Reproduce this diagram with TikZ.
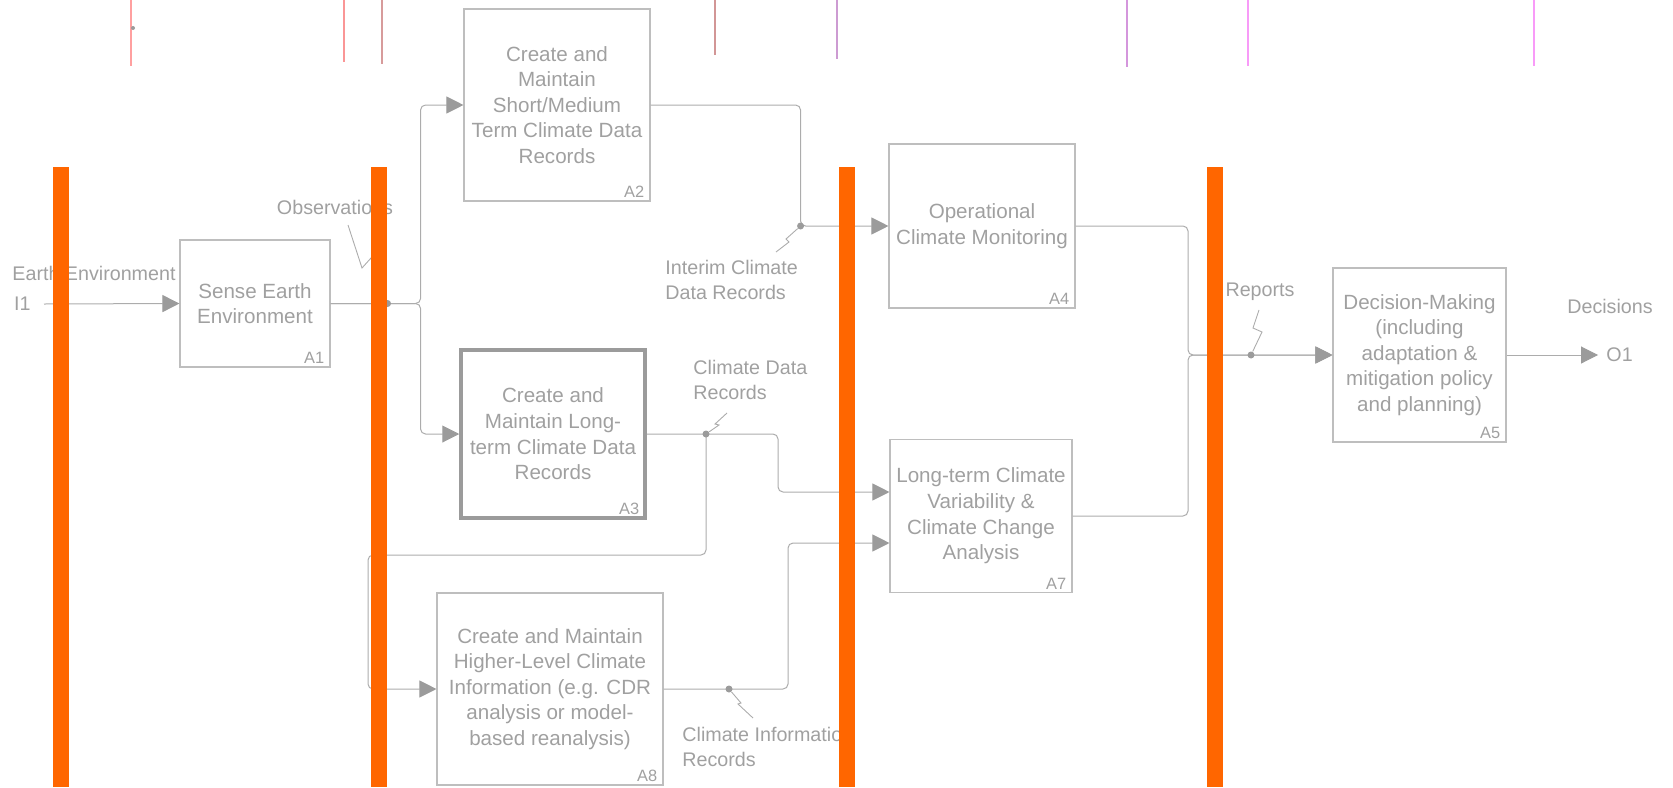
\documentclass[tikz,border=0pt]{standalone}
\usepackage{fontspec}
\setmainfont{Liberation Sans}
\usepackage{tikz}
\usetikzlibrary{calc}
\usetikzlibrary{shapes,arrows.meta}

\definecolor{boxgray}{RGB}{190,190,190}
\definecolor{txtgray}{RGB}{160,160,160}
\definecolor{linegray}{RGB}{172,172,172}
\definecolor{tipgray}{RGB}{155,155,155}
\definecolor{barorange}{RGB}{255,102,0}
\definecolor{tagA}{RGB}{255,160,160}
\definecolor{tagB}{RGB}{250,150,150}
\definecolor{tagC}{RGB}{215,155,155}
\definecolor{tagD}{RGB}{210,150,150}
\definecolor{tagE}{RGB}{205,155,210}
\definecolor{tagF}{RGB}{212,150,220}
\definecolor{tagG}{RGB}{248,155,248}

\newcommand{\boxfont}{\fontsize{10.3}{12.8}\selectfont}
\newcommand{\lblfont}{\fontsize{9.85}{12.2}\selectfont}
\newcommand{\idfont}{\fontsize{8.2}{9}\selectfont}

\tikzset{
  func/.style={draw=boxgray,line width=0.55pt,text=txtgray,align=center,inner sep=1pt,font=\boxfont},
  funcid/.style={text=txtgray,font=\idfont,anchor=south east,inner xsep=3pt,inner ysep=1.8pt},
  lbl/.style={text=txtgray,font=\lblfont,inner sep=0pt},
  flow/.style={draw=linegray,line width=0.5pt,rounded corners=2.5pt},
  arr/.style={flow,-{Triangle[length=8.5pt,width=8.5pt,color=tipgray]}},
  squig/.style={draw=linegray,line width=0.45pt},
  dot/.style={circle,fill=tipgray,inner sep=0pt,minimum size=3.5pt},
}

\begin{document}
\begin{tikzpicture}[x=0.5pt,y=-0.5pt]
    \useasboundingbox (0,0) rectangle (1673,787);

    % tags along the top edge
    \foreach \x/\y/\c in {131/66/tagA,344/62/tagB,382/64/tagC,715/55/tagD,837/59/tagE,1127/67/tagF,1248/66/tagG,1534/66/tagG}
      \draw[\c,line width=1pt] (\x,0) -- (\x,\y);
    \fill[tipgray] (133,28) circle[radius=1pt];

    % functions
    \node[func,minimum width=75pt,minimum height=63.5pt] (A1) at (255,303.5) {Sense Earth\\Environment};
    \node[func,minimum width=93pt,minimum height=96pt] (A2) at (557,105) {Create and\\Maintain\\Short/Medium\\Term Climate Data\\Records};
    \node[func,line width=1.75pt,draw=tipgray,minimum width=92pt,minimum height=84pt] (A3) at (553,434) {Create and\\Maintain Long-\\term Climate Data\\Records};
    \node[func,minimum width=93pt,minimum height=82pt] (A4) at (982,226) {Operational\\Climate Monitoring};
    \node[func,minimum width=91pt,minimum height=76.5pt] (A7) at (981,516) {Long-term Climate\\Variability \&\\Climate Change\\Analysis};
    \node[func,minimum width=113pt,minimum height=96pt] (A8) at (550,689) {Create and Maintain\\Higher-Level Climate\\Information (e.g. CDR\\analysis or model-\\based reanalysis)};
    \node[func,minimum width=86.5pt,minimum height=87pt] (A5) at (1419.5,355) {Decision-Making\\(including\\adaptation \&\\mitigation policy\\and planning)};

    \node[funcid] (A1id) at (A1.south east) {A1};
    \node[funcid] (A2id) at (A2.south east) {A2};
    \node[funcid] (A3id) at ([xshift=-0.6pt,yshift=0.6pt]A3.south east) {A3};
    \node[funcid] (A4id) at (A4.south east) {A4};
    \node[funcid] (A7id) at (A7.south east) {A7};
    \node[funcid] (A8id) at (A8.south east) {A8};
    \node[funcid] (A5id) at (A5.south east) {A5};

    % boundary and arrow labels
    \node[lbl,anchor=east] (I1) at (31,304) {I1};
    \node[lbl] (earth) at (94,273) {Earth Environment};
    \node[lbl] (obs) at (335,207) {Observations};
    \node[lbl,anchor=west,align=left] (interim) at (665,280) {Interim Climate\\Data Records};
    \node[lbl,anchor=west,align=left] (cdr) at (693,380) {Climate Data\\Records};
    \node[lbl,anchor=west,align=left] (cinfo) at (682,747) {Climate Information\\Records};
    \node[lbl] (reports) at (1260,292) {Reports};
    \node[lbl] (decisions) at (1610,306) {Decisions};
    \node[lbl,anchor=west] (O1) at (1606,355) {O1};

    \coordinate (fork1) at ($(A1.east)+(90,0)$);
    \coordinate (m1) at ($(A2.east)+(150,0)$);
    \coordinate (m2) at (778,434);
    \coordinate (a7in1) at (778,492);
    \coordinate (m3) at (706,555);
    \coordinate (m4) at (368,555);
    \coordinate (m5) at (788,689);
    \coordinate (a7in2) at (788,543);
    \coordinate (m6) at (1188,355);

    % arrows
    \draw[arr] ([xshift=6.5pt]I1.east) -- (A1.west);
    \draw[arr] (A1.east) -- (fork1) -- (fork1 |- A2.west) -- (A2.west);
    \draw[arr] (A1.east) -- (fork1) -- (fork1 |- A3.west) -- (A3.west);
    \draw[arr] (A2.east) -- (m1) -- (m1 |- A4.west) -- (A4.west);
    \draw[arr] (A3.east) -- (m2) -- (a7in1) -- (a7in1 -| A7.west);
    \draw[arr] (A3.east -| m3) -- (m3) -- (m4) -- (m4 |- A8.west) -- (A8.west);
    \draw[arr] (A8.east) -- (m5) -- (a7in2) -- (a7in2 -| A7.west);
    \draw[arr] (A4.east) -- (A4.east -| m6) -- (m6) -- (A5.west);
    \draw[arr] (A7.east) -- (A7.east -| m6) -- (m6) -- (A5.west);
    \draw[arr] (A5.east) -- ([xshift=-4pt]O1.west);

    % dots and squiggles
    \node[dot] (obsdot) at ($(A1.east)+(57,0)$) {};
    \node[dot] (interimdot) at (m1 |- A4.west) {};
    \node[dot] (cdrdot) at (A3.east -| m3) {};
    \node[dot] (cinfodot) at (729,689) {};
    \node[dot] (reportsdot) at (1251,355) {};
    \draw[squig] (348,225) -- (362,268) -- (371,258) -- (obsdot);
    \draw[squig] (interimdot) -- (786,239) -- (789,242) -- (776,252);
    \draw[squig] (cdrdot) -- (719,425) -- (715,424) -- (727,413);
    \draw[squig] (cinfodot) -- (741,703) -- (738,704) -- (753,718);
    \draw[squig] (reportsdot) -- (1262,332) -- (1253,328) -- (1259,310);

    % orange bars drawn over everything
    \foreach \x in {61,378.5,847,1215}
      \fill[barorange] (\x-8,167) rectangle (\x+8,787);
\end{tikzpicture}
\end{document}
